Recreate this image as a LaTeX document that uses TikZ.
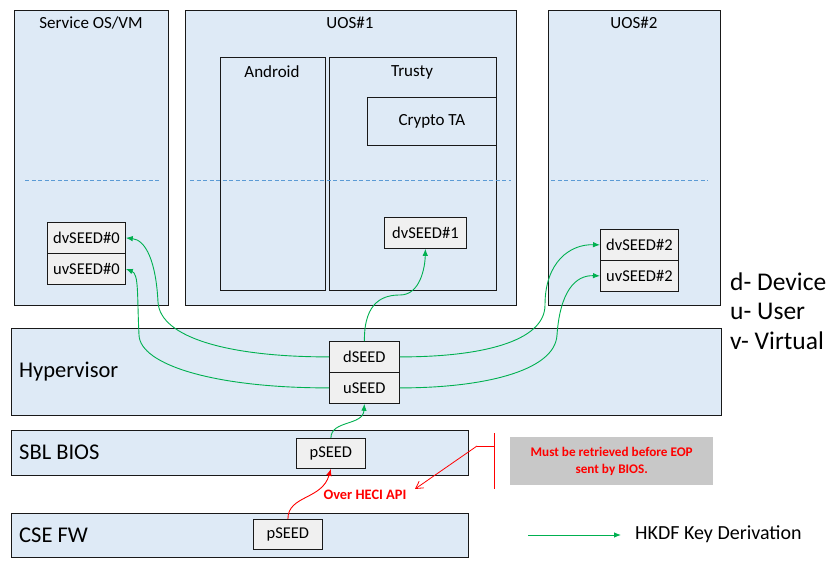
\documentclass[tikz,border=0pt]{standalone}
\usepackage{fontspec}
\setmainfont{Carlito}
\usetikzlibrary{arrows.meta}
\definecolor{boxblue}{HTML}{DEEAF6}
\definecolor{seedgray}{HTML}{F0F0F0}
\definecolor{kgreen}{HTML}{00B050}
\definecolor{dashblue}{HTML}{5B9BD5}
\definecolor{notegray}{HTML}{C8C8C8}
\definecolor{kred}{HTML}{FF0000}
\tikzset{
  bluebox/.style={draw=black!90, fill=boxblue, line width=0.9pt, inner sep=0pt, anchor=north west},
  innerbox/.style={draw=black!90, fill=boxblue, line width=0.8pt, inner sep=0pt, anchor=north west},
  seedbox/.style={draw=black!90, fill=seedgray, line width=0.8pt, inner sep=0pt, anchor=north west, font=\fontsize{16.5}{19}\selectfont},
  titletext/.style={inner sep=0pt, font=\fontsize{17}{20}\selectfont},
  bigtext/.style={inner sep=0pt, anchor=west, font=\fontsize{22.5}{26}\selectfont},
  legtext/.style={inner sep=0pt, anchor=west, font=\fontsize{25.5}{30}\selectfont},
  derive/.style={draw=kgreen, line width=0.9pt, -{Latex[length=7pt,width=5.5pt]}},
  redline/.style={draw=kred, line width=0.8pt},
  sep/.style={draw=dashblue, dashed, line width=0.7pt, dash pattern=on 4pt off 2.5pt},
}
\begin{document}
\begin{tikzpicture}[x=1pt,y=-1pt]
\useasboundingbox[fill=white] (0,0) rectangle (834,567);
% VM boxes
\node[bluebox, minimum width=154pt, minimum height=295pt] (sos) at (14,10) {};
\node[titletext] (sost) at (91,23) {Service OS/VM};
\node[bluebox, minimum width=331pt, minimum height=295pt] (uos1) at (185,10) {};
\node[titletext] (uos1t) at (350,23) {UOS\#1};
\node[innerbox, minimum width=105pt, minimum height=233pt] (android) at (220,57) {};
\node[titletext] (androidt) at (272,72) {Android};
\node[innerbox, minimum width=167pt, minimum height=233pt] (trusty) at (329,57) {};
\node[titletext] (trustyt) at (412,72) {Trusty};
\node[innerbox, minimum width=129pt, minimum height=48pt, font=\fontsize{17}{20}\selectfont] (crypto) at (367,97) {Crypto TA};
\node[bluebox, minimum width=172pt, minimum height=295pt] (uos2) at (548,10) {};
\node[titletext] (uos2t) at (634,23) {UOS\#2};
% dashed separators
\coordinate (s1a) at (25,180); \coordinate (s1b) at (160,180);
\coordinate (s2a) at (190,180); \coordinate (s2b) at (511,180);
\coordinate (s3a) at (551,180); \coordinate (s3b) at (708,180);
\draw[sep] (s1a) -- (s1b);
\draw[sep] (s2a) -- (s2b);
\draw[sep] (s3a) -- (s3b);
% seeds in VMs
\node[seedbox, minimum width=78pt, minimum height=31pt] (dv0) at (47,222) {dvSEED\#0};
\node[seedbox, minimum width=78pt, minimum height=31pt] (uv0) at (47,253) {uvSEED\#0};
\node[seedbox, minimum width=82pt, minimum height=31pt] (dv1) at (384,217) {dvSEED\#1};
\node[seedbox, minimum width=78pt, minimum height=31pt] (dv2) at (600,229) {dvSEED\#2};
\node[seedbox, minimum width=78pt, minimum height=31pt] (uv2) at (600,260) {uvSEED\#2};
% legend letters
\node[legtext] (lgd) at (730,282) {d- Device};
\node[legtext] (lgu) at (730,311) {u- User};
\node[legtext] (lgv) at (730,341) {v- Virtual};
% Hypervisor
\node[bluebox, minimum width=710pt, minimum height=87pt] (hv) at (11,328) {};
\node[bigtext] (hvt) at (19,372) {Hypervisor};
\node[seedbox, minimum width=70pt, minimum height=31pt] (dseed) at (329,341) {dSEED};
\node[seedbox, minimum width=70pt, minimum height=31pt] (useed) at (329,372) {uSEED};
% SBL BIOS
\node[bluebox, minimum width=457pt, minimum height=45pt] (bios) at (11,430) {};
\node[bigtext] (biost) at (19,452) {SBL BIOS};
\node[seedbox, minimum width=69pt, minimum height=30pt] (pbios) at (296,438) {pSEED};
% CSE FW
\node[bluebox, minimum width=457pt, minimum height=44pt] (cse) at (11,513) {};
\node[bigtext] (cset) at (19,535) {CSE FW};
\node[seedbox, minimum width=69pt, minimum height=30pt] (pcse) at (253,519) {pSEED};
% note
\node[fill=notegray, minimum width=203pt, minimum height=48pt, inner sep=0pt, anchor=north west, align=center, text=kred, font=\bfseries\fontsize{13.2}{17}\selectfont] (note) at (510,437) {Must be retrieved before EOP\\sent by BIOS.};
\node[inner sep=0pt, text=kred, font=\bfseries\fontsize{14.4}{17}\selectfont] (heci) at (365,495) {Over HECI API};
\coordinate (ra) at (494,433); \coordinate (rb) at (494,489);
\coordinate (rc) at (494,446); \coordinate (rd) at (477,446);
\coordinate (re) at (415,489);
\draw[redline] (ra) -- (rb);
\draw[redline] (rc) -- (rd);
\draw[redline, -{Straight Barb[length=7pt,width=8pt]}] (rd) -- (re);
% red derivation CSE -> BIOS
\draw[redline, line width=0.9pt, -{Latex[length=7pt,width=5.5pt]}] (pcse.north) .. controls (288,495) and (322,500) .. (pbios.south);
% green derivations
\draw[derive] (pbios.north) .. controls (331,420) and (363,426) .. (useed.south);
\draw[derive] (dseed.west) .. controls (230,357) and (160,338) .. (158,302) .. controls (156,262) and (146,240) .. (dv0.east);
\draw[derive] (useed.west) .. controls (215,388) and (140,365) .. (139,335) .. controls (137,295) and (139,274) .. (uv0.east);
\draw[derive] (dseed.north) .. controls (364,300) and (385,295) .. (400,295) .. controls (420,295) and (425,268) .. (dv1.south);
\draw[derive] (dseed.east) .. controls (480,357) and (545,342) .. (545,305) .. controls (545,262) and (570,244) .. (dv2.west);
\draw[derive] (useed.east) .. controls (480,388) and (555,372) .. (557,335) .. controls (560,292) and (575,275) .. (uv2.west);
% legend arrow
\coordinate (la) at (528,535); \coordinate (lb) at (621,535);
\draw[derive] (la) -- (lb);
\node[inner sep=0pt, anchor=west, font=\fontsize{20}{23}\selectfont] (lgk) at (635,534) {HKDF Key Derivation};
\end{tikzpicture}
\end{document}
